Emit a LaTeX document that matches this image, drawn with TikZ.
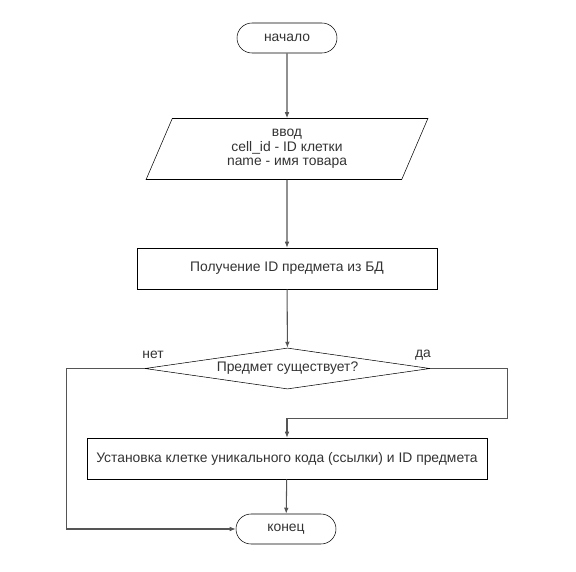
\documentclass[tikz,border=0pt]{standalone}
\usepackage{fontspec}
\setmainfont{Liberation Sans}
\usetikzlibrary{shapes.geometric,arrows.meta}
\definecolor{txt}{HTML}{333333}
\definecolor{ln}{HTML}{555555}
\begin{document}
\begin{tikzpicture}[x=0.75pt,y=-0.75pt, >={Latex[length=4.5pt,width=3.5pt]},
  font=\fontsize{10.4}{11}\selectfont, text=txt,
  term/.style={draw,thin,rectangle,rounded corners=11.25pt,
      minimum width=75pt,minimum height=22.5pt,inner sep=0pt},
  io/.style={draw,thin,trapezium,trapezium left angle=71,trapezium right angle=109,
      trapezium stretches=true,minimum width=211.5pt,minimum height=45.75pt,
      inner sep=0pt,align=center},
  proc/.style={draw,thin,rectangle,minimum height=30.75pt,inner sep=0pt},
  dec/.style={draw,thin,diamond,aspect=7,minimum width=213.75pt,
      minimum height=30.75pt,inner sep=0pt},
  c/.style={->,ln,thick}]

  \useasboundingbox (0,0) rectangle (576,572);

  \node[term] (start) at (287,38) {начало};
  \node[io] (inp) at (287,149) {ввод\\cell\_id - ID клетки\\name - имя товара};
  \node[proc,minimum width=225pt] (get) at (287,268.5) {Получение ID предмета из БД};
  \node[dec] (chk) at (287.5,368.5) {Предмет существует?};
  \node[proc,minimum width=300pt] (set) at (287,458.5)
      {Установка клетке уникального кода (ссылки) и ID предмета};
  \node[term] (stop) at (286,529) {конец};

  % labels of the branches
  \node (no) at (153,355) {нет};
  \node (yes) at (423,355) {да};

  % connectors
  \draw[c] (start) -- (inp);
  \draw[c] (inp) -- (get);
  \draw[c] (get) -- (chk);
  \draw[c] (chk.west) -- ++(-78,0) |- (stop.west);
  \draw[c] (chk.east) -- ++(77,0) -- ++(0,50) -| (set.north);
  \draw[c] (set) -- (stop);

\end{tikzpicture}
\end{document}
